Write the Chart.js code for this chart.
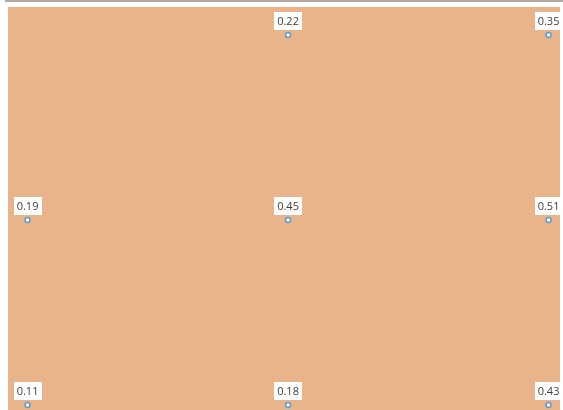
<!DOCTYPE html>
<html>
<head>
<meta charset="utf-8">
<script src="https://cdn.jsdelivr.net/npm/chart.js@4"></script>
<style>
  html, body { margin: 0; padding: 0; background: #ffffff; }
  #wrap { width: 563px; height: 410px; }
</style>
</head>
<body>
<div id="wrap"><canvas id="chart"></canvas></div>
<script>
// grid of values: columns 0..2, rows top/middle/bottom
const columns = [0, 1, 2];
const rowTop = [null, 0.22, 0.35];
const rowMid = [0.19, 0.45, 0.51];
const rowBottom = [0.11, 0.18, 0.43];
const rowLevels = [2, 1, 0];

const FILL = "#eab48b";
const POINT = "#5b9bd5";
const INK = "#404040";

function rowData(vals, level) {
  return columns
    .map((c, i) => ({ x: c, y: level, v: vals[i] }))
    .filter(d => d.v != null);
}

// peach plot background + thin rule at top
const backdrop = {
  id: "backdrop",
  beforeDraw(chart) {
    const { ctx, chartArea: a } = chart;
    ctx.save();
    ctx.fillStyle = "#b3aaa4";
    ctx.fillRect(5, 0, chart.width - 5, 2);
    ctx.fillStyle = FILL;
    ctx.fillRect(a.left, a.top, a.right - a.left, a.bottom - a.top);
    ctx.restore();
  }
};

// value labels in white boxes above each point
const valueLabels = {
  id: "valueLabels",
  afterDatasetsDraw(chart) {
    const ctx = chart.ctx;
    ctx.save();
    ctx.font = "11px 'Open Sans', 'Liberation Sans', sans-serif";
    ctx.textAlign = "center";
    ctx.textBaseline = "middle";
    chart.data.datasets.forEach((ds, di) => {
      chart.getDatasetMeta(di).data.forEach((pt, i) => {
        const d = ds.data[i];
        if (!d) return;
        const txt = d.v.toFixed(2);
        const w = 28, h = 18;
        const bx = Math.round(pt.x - w / 2), by = Math.round(pt.y - 5 - h);
        ctx.fillStyle = "#ffffff";
        ctx.fillRect(bx, by, w, h);
        ctx.fillStyle = INK;
        ctx.fillText(txt, pt.x, by + h / 2 + 0.5);
      });
    });
    ctx.restore();
  }
};

new Chart(document.getElementById("chart"), {
  type: "scatter",
  data: {
    datasets: [rowTop, rowMid, rowBottom].map((vals, k) => ({
      data: rowData(vals, rowLevels[k]),
      pointRadius: 2.5, pointBorderWidth: 1.5,
      pointBackgroundColor: "#ffffff", pointBorderColor: POINT,
      clip: false
    }))
  },
  options: {
    responsive: true, maintainAspectRatio: false, animation: false,
    layout: { autoPadding: false, padding: { left: 8, top: 7, right: 3, bottom: 0 } },
    scales: {
      x: { type: "linear", min: -0.075, max: 2.044, display: false },
      y: { type: "linear", min: -0.027, max: 2.151, display: false }
    },
    plugins: { legend: { display: false }, tooltip: { enabled: false } }
  },
  plugins: [backdrop, valueLabels]
});
</script>
</body>
</html>
